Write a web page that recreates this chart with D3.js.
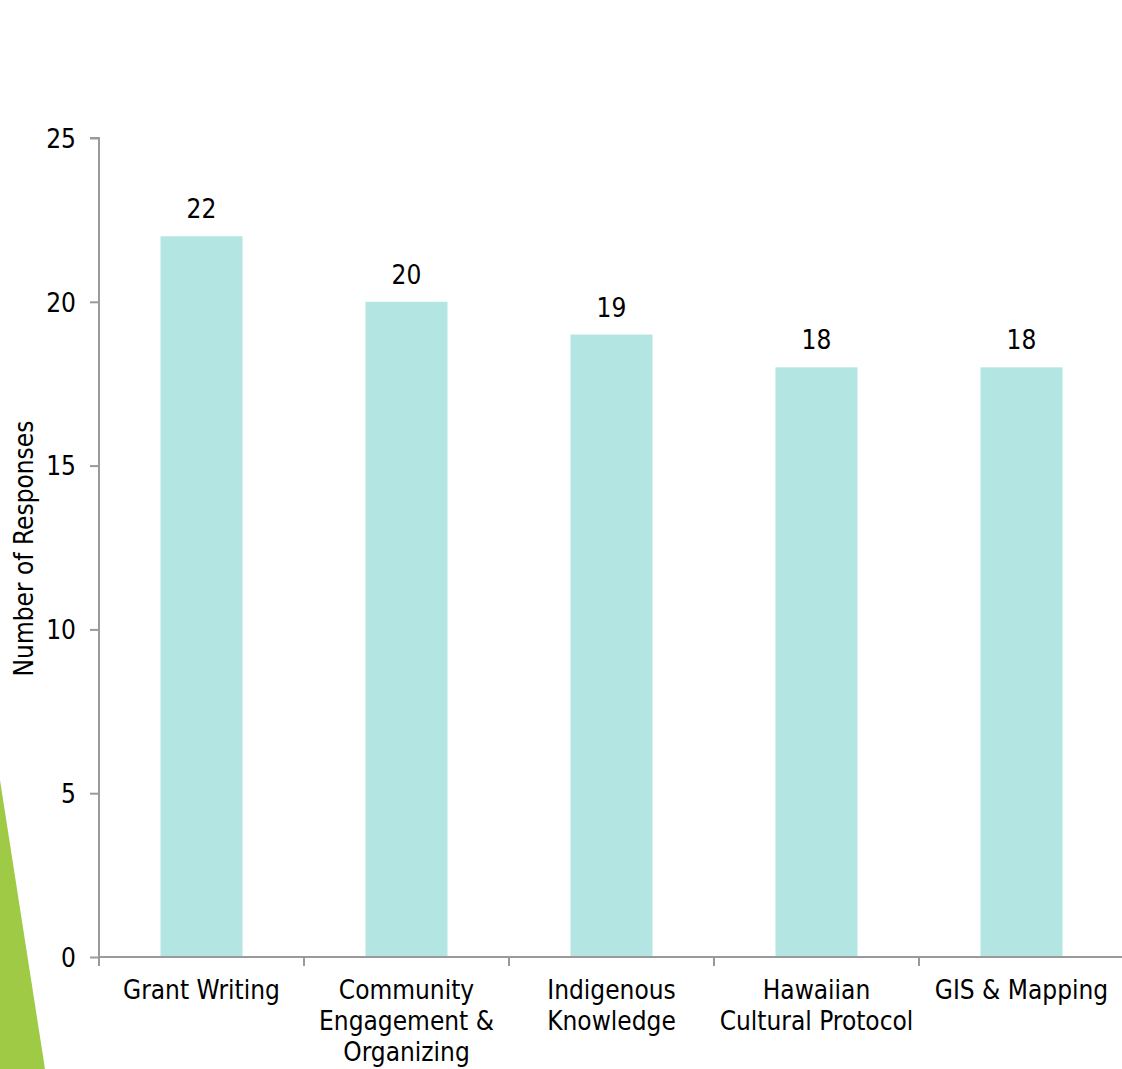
<!DOCTYPE html>
<html>
<head>
<meta charset="utf-8">
<script src="https://cdn.jsdelivr.net/npm/d3@7"></script>
<style>
  html, body { margin: 0; padding: 0; background: #fff; }
  svg { display: block; }
  text { font-family: "DejaVu Sans Condensed", "DejaVu Sans", sans-serif; fill: #000; }
</style>
</head>
<body>
<svg id="chart" width="1122" height="1069"></svg>
<script>
// Training topics and how many respondents asked for each
const categories = [
  ["Grant Writing"],
  ["Community", "Engagement &", "Organizing"],
  ["Indigenous", "Knowledge"],
  ["Hawaiian", "Cultural Protocol"],
  ["GIS & Mapping"]
];
const values = [22, 20, 19, 18, 18];
const yTicks = [0, 5, 10, 15, 20, 25];
const yTitle = "Number of Responses";

const svg = d3.select("#chart");
const W = 1122, H = 1069;
const margin = { left: 99, right: -2, top: 138, bottom: 112 };
const fontSize = 26;

// decorative accent wedge at the lower left
svg.append("polygon")
  .attr("points", `0,780 45,${H} 0,${H}`)
  .attr("fill", "#9fca46");

const x = d3.scaleBand()
  .domain(categories.map((d, i) => i))
  .range([margin.left, W - margin.right])
  .paddingInner(0.6)
  .paddingOuter(0.3);

const y = d3.scaleLinear()
  .domain([0, 25])
  .range([H - margin.bottom, margin.top]);

const axisColor = "#9a9a9a";

// bars
svg.append("g").selectAll("rect")
  .data(values)
  .join("rect")
  .attr("x", (d, i) => x(i))
  .attr("width", x.bandwidth())
  .attr("y", d => y(d))
  .attr("height", d => y(0) - y(d))
  .attr("fill", "#b3e5e2");

// value labels
svg.append("g").selectAll("text")
  .data(values)
  .join("text")
  .attr("x", (d, i) => x(i) + x.bandwidth() / 2)
  .attr("y", d => y(d) - 18)
  .attr("text-anchor", "middle")
  .attr("font-size", fontSize)
  .text(d => d);

// y axis
const yAxis = svg.append("g")
  .attr("transform", `translate(${margin.left},0)`)
  .call(d3.axisLeft(y).tickValues(yTicks).tickSize(9).tickPadding(14));
yAxis.select(".domain").attr("stroke", axisColor).attr("stroke-width", 2)
  .attr("d", `M-9,${y(25)}H0V${y(0)}`);
yAxis.selectAll(".tick line").attr("stroke", axisColor).attr("stroke-width", 2);
yAxis.selectAll(".tick text").attr("font-size", fontSize).attr("dy", "0.36em")
  .style("font-family", "'DejaVu Sans Condensed', 'DejaVu Sans', sans-serif").attr("fill", "#000");

// x axis with ticks at band boundaries
const xAxisG = svg.append("g").attr("transform", `translate(0,${y(0)})`);
const step = x.step();
const xStart = margin.left;
const boundaries = d3.range(categories.length + 1).map(i => xStart + i * step);
xAxisG.append("line")
  .attr("x1", margin.left).attr("x2", W)
  .attr("stroke", axisColor).attr("stroke-width", 2);
xAxisG.selectAll(".bt")
  .data(boundaries)
  .join("line")
  .attr("x1", d => d).attr("x2", d => d)
  .attr("y1", 0).attr("y2", 9)
  .attr("stroke", axisColor).attr("stroke-width", 2);

// category labels
xAxisG.selectAll(".cat")
  .data(categories)
  .join("text")
  .attr("text-anchor", "middle")
  .attr("font-size", fontSize)
  .attr("transform", (d, i) => `translate(${x(i) + x.bandwidth() / 2},42)`)
  .each(function(lines) {
    d3.select(this).selectAll("tspan")
      .data(lines)
      .join("tspan")
      .attr("x", 0)
      .attr("y", (l, j) => j * 31)
      .text(l => l);
  });

// y axis title
svg.append("text")
  .attr("transform", `translate(33,${(y(0) + y(25)) / 2 + 1}) rotate(-90)`)
  .attr("text-anchor", "middle")
  .attr("font-size", fontSize)
  .text(yTitle);
</script>
</body>
</html>
